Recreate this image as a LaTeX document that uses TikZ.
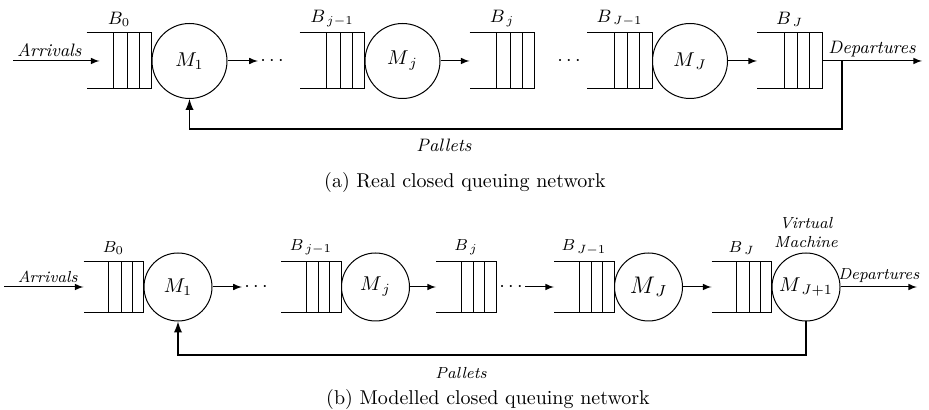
\documentclass[tikz,border=0pt]{standalone}
\usetikzlibrary{positioning,calc}
\begin{document}
\begin{tikzpicture}[x=0.5pt, y=-0.5pt, >=latex, line width=0.5pt,
    queue/.style={minimum width=32pt, minimum height=27.5pt, inner sep=0pt},
    server/.style={circle, draw, minimum size=37.5pt, inner sep=0pt},
    tag/.style={font=\small\itshape, inner sep=2pt},
    buf/.style={font=\small, inner sep=1pt},
    dots/.style={inner sep=1pt},
    back/.style={->, line width=0.9pt}]
    \useasboundingbox (0,0) rectangle (929,410);
    % (a) real network
    \node[queue] (qa0) at (119,61) {};
    \node[server, right=0pt of qa0] (ma1) {$M_1$};
    \node[dots] (da1) at (272,61) {$\cdots$};
    \node[queue] (qa1) at (332,61) {};
    \node[server, right=0pt of qa1] (maj) {$M_{\,j}$};
    \node[queue] (qa2) at (502,61) {};
    \node[dots] (da2) at (569,61) {$\cdots$};
    \node[queue] (qa3) at (619.5,61) {};
    \node[server, right=0pt of qa3] (maJ) {$M_{\,J}$};
    \node[queue] (qa4) at (789.5,61) {};
    \node[buf, above=2pt of qa0] (la0) {$B_0$};
    \node[buf, above=2pt of qa1] (la1) {$B_{\,j-1}$};
    \node[buf, above=2pt of qa2] (la2) {$B_{\,j}$};
    \node[buf, above=2pt of qa3] (la3) {$B_{\,J-1}$};
    \node[buf, above=2pt of qa4] (la4) {$B_{\,J}$};
    \coordinate (ina) at (13,61);
    \coordinate (outa) at (922,61);
    \coordinate (tapa) at (842,61);
    \coordinate (fba) at (842,129);
    \draw[->] (ina) -- node[tag, above, pos=0.42] (arra) {Arrivals} ($(qa0.west)+(13,0)$);
    \draw[->] (ma1) -- (da1);
    \draw[->] (maj) -- (qa2);
    \draw[->] (maJ) -- (qa4);
    \draw[->] (qa4.east) -- node[tag, above] (depa) {Departures} (outa);
    \draw[back] (tapa) -- (fba) -| (ma1.south);
    \node[tag] (pala) at (444,145) {Pallets};
    \node (capa) at (465,183) {(a) Real closed queuing network};
    % (b) modelled network
    \begin{scope}[queue/.style={minimum width=29.5pt, minimum height=25pt, inner sep=0pt},
        server/.style={circle, draw, minimum size=34pt, inner sep=0pt},
        tag/.style={font=\footnotesize\itshape, inner sep=2pt},
        buf/.style={font=\footnotesize, inner sep=1pt}]
    \node[queue] (qb0) at (113.5,287) {};
    \node[server, right=0pt of qb0] (mb1) {$M_1$};
    \node[dots] (db1) at (256,287) {$\cdots$};
    \node[queue] (qb1) at (311,287) {};
    \node[server, right=0pt of qb1] (mbj) {$M_{\,j}$};
    \node[queue] (qb2) at (466,287) {};
    \node[dots] (db2) at (511,287) {$\cdots$};
    \node[queue] (qb3) at (584,287) {};
    \node[server, right=0pt of qb3, font=\large] (mbJ) {$M_{\,J}$};
    \node[queue] (qb4) at (741.5,287) {};
    \node[server, right=0pt of qb4] (mbV) {$M_{\,J+1}$};
    \node[buf, above=2pt of qb0] (lb0) {$B_0$};
    \node[buf, above=2pt of qb1] (lb1) {$B_{\,j-1}$};
    \node[buf, above=2pt of qb2] (lb2) {$B_{\,j}$};
    \node[buf, above=2pt of qb3] (lb3) {$B_{\,J-1}$};
    \node[buf, above=2pt of qb4] (lb4) {$B_{\,J}$};
    \node[tag, align=center, above=0pt of mbV] (vm) {Virtual\\Machine};
    \coordinate (inb) at (4,287);
    \coordinate (outb) at (917,287);
    \coordinate (fbb) at (804,355);
    \draw[->] (inb) -- node[tag, above, pos=0.55] (arrb) {Arrivals} (qb0.west);
    \draw[->] (mb1) -- (db1);
    \draw[->] (mbj) -- (qb2);
    \draw[->] (db2) -- (qb3);
    \draw[->] (mbJ) -- (qb4);
    \draw[->] (mbV) -- node[tag, above] (depb) {Departures} (outb);
    \draw[back] (mbV.south) -- (mbV.south |- fbb) -| (mb1.south);
    \node[tag] (palb) at (461,373) {Pallets};
    \node (capb) at (488,399) {(b) Modelled closed queuing network};
    \end{scope}
    \foreach \q in {qa0,qa1,qa2,qa3,qa4,qb0,qb1,qb2,qb3,qb4} {
        \draw (\q.north west) -- (\q.north east) -- (\q.south east) -- (\q.south west);
        \foreach \f in {0.42,0.63,0.81}
            \draw ($(\q.north west)!\f!(\q.north east)$) -- ($(\q.south west)!\f!(\q.south east)$);
    }
\end{tikzpicture}
\end{document}
